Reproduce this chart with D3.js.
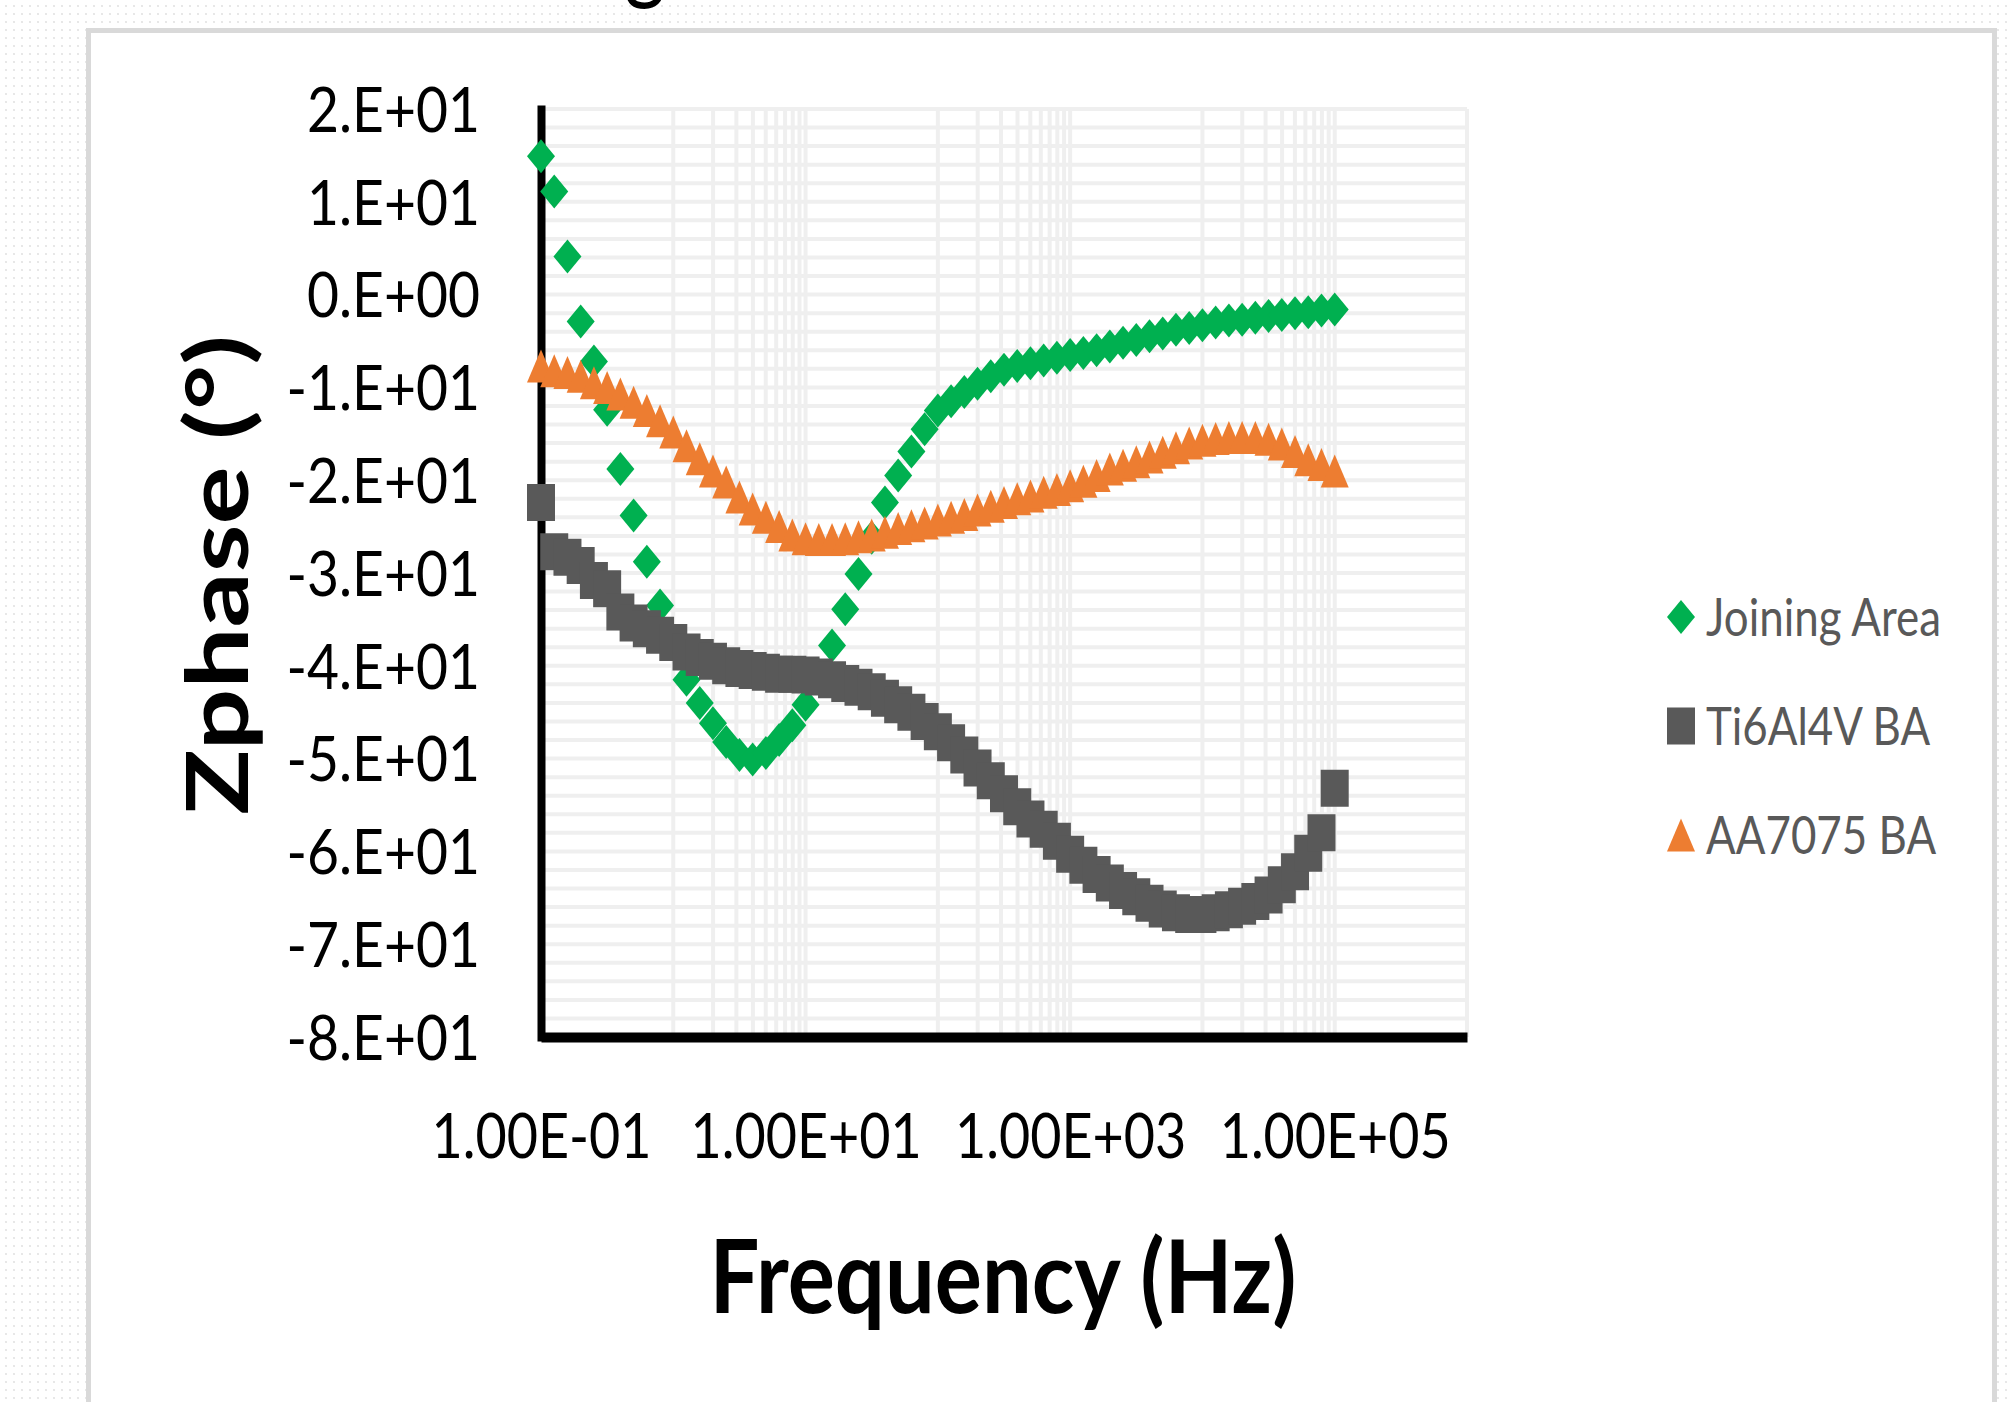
<!DOCTYPE html>
<html>
<head>
<meta charset="utf-8">
<script src="https://cdn.jsdelivr.net/npm/d3@7"></script>
<style>
	html, body { margin: 0; padding: 0; background: #fff; }
	svg { display: block; }
</style>
</head>
<body>
<svg id="chart"></svg>
<script>
// frequencies (Hz), 10 points per decade
const freq = [
	0.1, 0.1259, 0.1585, 0.1995, 0.2512, 0.3162, 0.3981, 0.5012, 0.631, 0.7943,
	1, 1.259, 1.585, 1.995, 2.512, 3.162, 3.981, 5.012, 6.31, 7.943,
	10, 12.59, 15.85, 19.95, 25.12, 31.62, 39.81, 50.12, 63.1, 79.43,
	100, 125.9, 158.5, 199.5, 251.2, 316.2, 398.1, 501.2, 631, 794.3,
	1000, 1259, 1585, 1995, 2512, 3162, 3981, 5012, 6310, 7943,
	10000, 12589, 15849, 19953, 25119, 31623, 39811, 50119, 63096, 79433, 100000
]

// Zphase (deg)
const joiningArea = [
	14.9, 11.1, 4.1, -2.9, -7.2, -12.4, -18.8, -23.8, -28.8, -33.5,
	-37.5, -41.5, -44.0, -46.2, -48.2, -49.6, -50.1, -49.4, -48.0, -46.4,
	-44.2, -41.0, -37.8, -33.9, -30.1, -26.2, -22.4, -19.5, -16.9, -14.5,
	-12.5, -11.5, -10.5, -9.6, -8.8, -8.1, -7.7, -7.4, -7.1, -6.8,
	-6.5, -6.3, -6.0, -5.6, -5.2, -4.9, -4.5, -4.2, -3.8, -3.6,
	-3.3, -3.0, -2.8, -2.7, -2.5, -2.3, -2.2, -2.0, -1.9, -1.7, -1.6
]
const ti6al4v = [
	-22.4, -27.7, -28.3, -29.2, -30.8, -31.7, -34.2, -35.4, -36.0, -36.7,
	-37.5, -38.5, -39.1, -39.5, -40.0, -40.3, -40.5, -40.7, -40.9, -40.9,
	-41.0, -41.2, -41.5, -41.9, -42.3, -42.8, -43.5, -44.2, -45.0, -46.0,
	-47.1, -48.3, -49.6, -51.0, -52.4, -53.8, -55.2, -56.5, -57.6, -58.9,
	-60.3, -61.5, -62.5, -63.4, -64.2, -64.9, -65.6, -66.2, -66.6, -66.8,
	-66.8, -66.6, -66.3, -65.9, -65.4, -64.7, -63.6, -62.2, -60.2, -58.0, -53.2
]
const aa7075 = [
	-7.7, -8.2, -8.4, -8.8, -9.5, -10.0, -10.7, -11.6, -12.5, -13.6,
	-14.8, -16.3, -17.7, -19.0, -20.2, -21.8, -23.1, -24.0, -25.0, -25.9,
	-26.3, -26.4, -26.4, -26.3, -26.1, -25.9, -25.6, -25.2, -24.9, -24.6,
	-24.3, -24.0, -23.7, -23.2, -22.8, -22.4, -22.0, -21.7, -21.3, -21.0,
	-20.6, -20.1, -19.5, -18.8, -18.4, -18.0, -17.5, -17.0, -16.5, -16.0,
	-15.7, -15.5, -15.4, -15.4, -15.4, -15.6, -16.1, -16.9, -17.8, -18.3, -19.0
]

const seriesNames = ['Joining Area', 'Ti6Al4V BA', 'AA7075 BA']
const seriesValues = [joiningArea, ti6al4v, aa7075]
const seriesColors = ['#00b050', '#595959', '#ed7d31']
const seriesShapes = ['diamond', 'square', 'triangle']

const xTicks = [0.1, 10, 1000, 100000]
const xDomain = [0.1, 1000000]
const yTicks = [20, 10, 0, -10, -20, -30, -40, -50, -60, -70, -80]
const yDomain = [-80, 20]

const W = 2007
const H = 1402
const plot = {left: 541, right: 1467, top: 109, bottom: 1037}
const markerSize = {diamond: [28, 34], square: [28, 37], triangle: [28, 33]}

function markerPath(shape) {
	let a = markerSize[shape][0] / 2
	let b = markerSize[shape][1] / 2
	if (shape === 'diamond') return `M0,${-b}L${a},0L0,${b}L${-a},0Z`
	if (shape === 'square') return `M${-a},${-b}H${a}V${b}H${-a}Z`
	return `M0,${-b}L${a},${b}L${-a},${b}Z`
}

// Excel-like "2.E+01"
function fmtY(v) {
	if (v === 0) return '0.E+00'
	let e = Math.floor(Math.log10(Math.abs(v)))
	let m = Math.round(v / Math.pow(10, e))
	let s = e < 0 ? '-' : '+'
	return `${m}.E${s}${String(Math.abs(e)).padStart(2, '0')}`
}

// Excel-like "1.00E-01"
function fmtX(v) {
	let [m, e] = v.toExponential(2).split('e')
	let n = +e
	return `${m}E${n < 0 ? '-' : '+'}${String(Math.abs(n)).padStart(2, '0')}`
}

// horizontal squeeze factor so a label hits the width seen in the picture
function fitScale(textSel, width) {
	return width / textSel.node().getComputedTextLength()
}

class PhaseChart {
	constructor(el) {
		this.svg = d3.select(el).attr('width', W).attr('height', H)
		this.x = d3.scaleLog().domain(xDomain).range([plot.left, plot.right])
		this.y = d3.scaleLinear().domain(yDomain).range([plot.bottom, plot.top])

		this.drawFrame()
		this.drawGrid()
		this.drawAxes()
		this.drawSeries()
		this.drawLegend()
		this.drawTitles()
	}

	drawFrame() {
		let pat = this.svg.append('defs').append('pattern')
			.attr('id', 'dots')
			.attr('width', 8)
			.attr('height', 8)
			.attr('patternUnits', 'userSpaceOnUse')
		pat.append('circle')
			.attr('cx', 6).attr('cy', 6).attr('r', 1.1)
			.style('fill', '#e2e2e2')

		this.svg.append('rect')
			.attr('width', W).attr('height', H)
			.style('fill', 'url(#dots)')

		this.svg.append('rect')
			.attr('x', 88.5).attr('y', 30.5)
			.attr('width', 1906).attr('height', 1400)
			.style('fill', '#fff')
			.style('stroke', '#d9d9d9')
			.style('stroke-width', 5)

		// tail of a caption cut off above the frame
		this.svg.append('text')
			.attr('transform', 'translate(645,-9) scale(0.8,1)')
			.attr('text-anchor', 'middle')
			.style('font-family', 'Lato')
			.style('font-size', '100px')
			.text('g')
	}

	drawGrid() {
		let minor = []
		xTicks.forEach(t => {
			for (let k = 1; k < 10; k++) {
				let v = t * 10 * k
				if (v <= xDomain[1]) minor.push(v)
			}
		})
		let xLines = xTicks.concat(minor)
		let yLines = d3.range(yDomain[0], yDomain[1] + 1, 2)

		let g = this.svg.append('g')
			.style('stroke', '#efefef')
			.style('stroke-width', 4)

		g.selectAll('.hgrid')
			.data(yLines)
			.join('line')
			.attr('x1', plot.left).attr('x2', plot.right)
			.attr('y1', d => this.y(d)).attr('y2', d => this.y(d))

		g.selectAll('.vgrid')
			.data(xLines)
			.join('line')
			.attr('x1', d => this.x(d)).attr('x2', d => this.x(d))
			.attr('y1', plot.top).attr('y2', plot.bottom)
	}

	drawAxes() {
		let yAxis = this.svg.append('g')
			.attr('transform', `translate(${plot.left},0)`)
			.call(d3.axisLeft(this.y).tickValues(yTicks).tickFormat(fmtY).tickSize(0).tickSizeOuter(0))
		yAxis.select('.domain')
			.style('stroke', '#000')
			.style('stroke-width', 8)
			.style('stroke-linecap', 'square')

		let xAxis = this.svg.append('g')
			.attr('transform', `translate(0,${plot.bottom})`)
			.call(d3.axisBottom(this.x).tickValues(xTicks).tickFormat(fmtX).tickSize(0).tickSizeOuter(0))
		xAxis.select('.domain')
			.style('stroke', '#000')
			.style('stroke-width', 10)

		this.yLabels = yAxis.selectAll('text')
		this.xLabels = xAxis.selectAll('text')
	}

	drawSeries() {
		seriesValues.forEach((vals, s) => {
			this.svg.append('g')
				.selectAll('path')
				.data(vals.map((v, i) => [freq[i], v]))
				.join('path')
				.attr('d', markerPath(seriesShapes[s]))
				.attr('transform', d => `translate(${this.x(d[0])},${this.y(d[1])})`)
				.style('fill', seriesColors[s])
		})
	}

	drawLegend() {
		let lg = this.svg.append('g')
		seriesNames.forEach((name, i) => {
			let cy = 617 + i * 109
			lg.append('path')
				.attr('d', markerPath(seriesShapes[i]))
				.attr('transform', `translate(1681,${cy})`)
				.style('fill', seriesColors[i])
			lg.append('text')
				.attr('class', 'legend-text')
				.attr('y', cy)
				.attr('dy', '0.36em')
				.style('font-family', 'Lato')
				.style('font-size', '52px')
				.style('fill', '#595959')
				.text(name)
		})
		let texts = lg.selectAll('.legend-text')
		let sx = fitScale(texts.filter((d, i) => i === 0), 235)
		texts.each(function() {
			let t = d3.select(this)
			let cy = +t.attr('y')
			t.attr('y', 0).attr('transform', `translate(1706,${cy}) scale(${sx},1)`)
		})
	}

	drawTitles() {
		// tick label styling
		this.yLabels
			.style('font-family', 'Lato')
			.style('font-size', '62px')
			.style('fill', '#000')
		let sy = fitScale(this.yLabels.filter(d => d === 20), 173)
		this.yLabels
			.attr('x', 0)
			.attr('dy', '0.36em')
			.attr('transform', `translate(-61,0) scale(${sy},1)`)

		this.xLabels
			.style('font-family', 'Lato')
			.style('font-size', '62px')
			.style('fill', '#000')
		let sxl = fitScale(this.xLabels.filter(d => d === 0.1), 220)
		this.xLabels
			.attr('y', 121)
			.attr('dy', 0)
			.attr('transform', `scale(${sxl},1)`)
			.attr('x', 0)

		let xt = this.svg.append('text')
			.attr('text-anchor', 'middle')
			.style('font-family', 'Lato')
			.style('font-weight', 700)
			.style('font-size', '102px')
			.text('Frequency (Hz)')
		let s1 = fitScale(xt, 587)
		xt.attr('transform', `translate(1003,1313) scale(${s1},1)`)

		let yt = this.svg.append('text')
			.attr('text-anchor', 'middle')
			.style('font-family', 'Lato')
			.style('font-weight', 700)
			.style('font-size', '86px')
			.text('Zphase (°)')
		let s2 = fitScale(yt, 480)
		yt.attr('transform', `translate(248,575) rotate(-90) scale(${s2},1)`)
	}
}

new PhaseChart('#chart')
</script>
</body>
</html>
